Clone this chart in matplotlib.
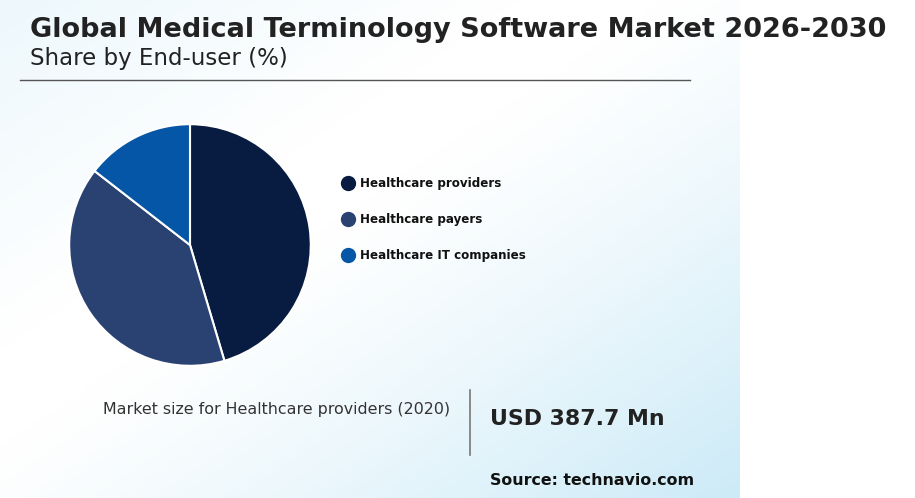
import matplotlib
matplotlib.use("Agg")
import matplotlib.pyplot as plt
import numpy as np
from matplotlib.lines import Line2D

plt.rcParams['font.family'] = ['DejaVu Sans']

labels = ["Healthcare providers", "Healthcare payers", "Healthcare IT companies"]
shares = [45.4, 40.1, 14.5]
colors = ["#081c42", "#2a4272", "#0556a6"]

W, H = 915, 498
fig = plt.figure(figsize=(W/100, H/100), dpi=100)

# background gradient: bluish at bottom-right, slight tint top-left, white middle
bg = fig.add_axes([0, 0, 740/W, 1])
bg.axis("off")
yy, xx = np.mgrid[0:1:200j, 0:1:300j]  # yy: 0 top -> 1 bottom
d = (xx + yy) / 2
t = np.clip((d - 0.45) / 0.55, 0, 1) ** 1.2 + 0.35 * np.clip((0.35 - d) / 0.35, 0, 1)
c0 = np.array([1, 1, 1]); c1 = np.array([0.80, 0.92, 0.97])
img = c0[None, None, :]*(1-t[..., None]) + c1[None, None, :]*t[..., None]
bg.imshow(img, aspect="auto", extent=[0, 1, 0, 1], origin="upper")
bg.set_xlim(0, 1); bg.set_ylim(0, 1)

fig.text(30/W, 1-30/H, "Global Medical Terminology Software Market 2026-2030",
         fontsize=19.5, fontweight="bold", color="#222222", va="center")
fig.text(30/W, 1-59/H, "Share by End-user (%)", fontsize=16.5, color="#222222", va="center")
fig.add_artist(Line2D([20/W, 690/W], [1-80/H, 1-80/H], color="#555555", lw=1))

S = 302
ax = fig.add_axes([(190-S/2)/W, 1-(245+S/2)/H, S/W, S/H])
ax.pie(shares, colors=colors, startangle=90, counterclock=False,
       wedgeprops=dict(edgecolor="white", linewidth=1.5))
ax.set_aspect("equal")

for i, (lab, c) in enumerate(zip(labels, colors)):
    y = 1-(183+36*i)/H
    fig.add_artist(Line2D([348/W], [y], marker="o", markersize=10, color=c, linestyle=""))
    fig.text(360/W, y, lab, fontsize=8.6, fontweight="bold", color="#111111", va="center")

fig.text(450/W, 1-409/H, "Market size for Healthcare providers (2020)", fontsize=11.4,
         color="#333333", ha="right", va="center")
fig.add_artist(Line2D([470/W, 470/W], [1-390/H, 1-455/H], color="#777777", lw=1.2))
fig.text(490/W, 1-419/H, "USD 387.7 Mn", fontsize=15.8, fontweight="bold", color="#222222", va="center")
fig.text(490/W, 1-480/H, "Source: technavio.com", fontsize=11.4, fontweight="bold", color="#111111", va="center")

fig.savefig("out.png", dpi=100)
